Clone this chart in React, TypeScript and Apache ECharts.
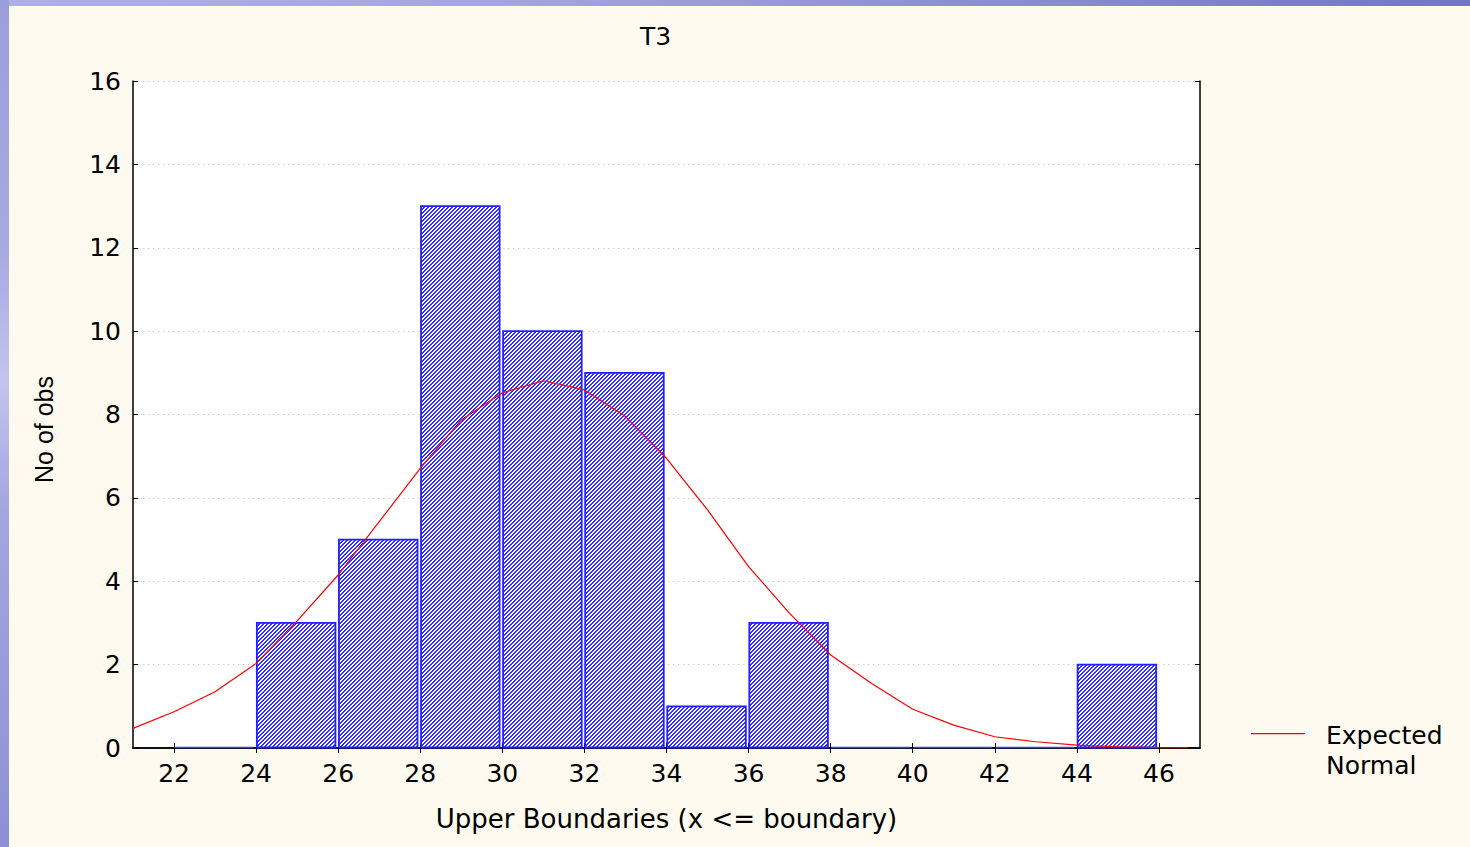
import React, { useEffect, useRef } from "react";
import * as echarts from "echarts";

const chartTitle = "T3";
const xAxisName = "Upper Boundaries (x <= boundary)";
const yAxisName = "No of obs";
const legendName = "Expected Normal";
const legendLines = ["Expected", "Normal"];

// histogram bins (lower edge) and counts
const binStarts = [22, 24, 26, 28, 30, 32, 34, 36, 38, 40, 42, 44];
const binWidth = 2;
const counts = [0, 3, 5, 13, 10, 9, 1, 3, 0, 0, 0, 2];

// expected normal curve
const curveX = [21, 22, 23, 24, 25, 26, 27, 28, 29, 30, 31, 32, 33, 34, 35, 36, 37, 38, 39, 40, 41, 42, 43, 44, 45, 46, 46.7];
const curveY = [0.47, 0.87, 1.35, 2.03, 3.05, 4.15, 5.43, 6.71, 7.87, 8.52, 8.81, 8.59, 7.95, 6.95, 5.71, 4.35, 3.23, 2.23, 1.55, 0.93, 0.55, 0.27, 0.15, 0.07, 0.03, 0.01, 0.005];

const xTicks = [22, 24, 26, 28, 30, 32, 34, 36, 38, 40, 42, 44, 46];
const xMin = 21;
const xMax = 47;
const yMin = 0;
const yMax = 16;
const yStep = 2;

const FONT = "DejaVu Sans";

function makeHatch() {
  const n = 4;
  const c = document.createElement("canvas");
  c.width = n;
  c.height = n;
  const ctx = c.getContext("2d")!;
  ctx.fillStyle = "#ffffff";
  ctx.fillRect(0, 0, n, n);
  ctx.fillStyle = "#3030ff";
  for (let y = 0; y < n; y++) {
    for (let x = 0; x < n; x++) {
      const k = (x + y) % n;
      if (k === 0 || k === 3) ctx.fillRect(x, y, 1, 1);
    }
  }
  return { image: c.toDataURL(), repeat: "repeat", imageWidth: n, imageHeight: n };
}

export default function App() {
  const ref = useRef<HTMLDivElement>(null);

  useEffect(() => {
    if (!ref.current) return;
    const chart = echarts.init(ref.current, null, { renderer: "svg" });
    const hatch = makeHatch();

    const barData = binStarts.map((s, i) => [s, s + binWidth, counts[i]]);
    const curveData = curveX.map((x, i) => [x, curveY[i]]);

    const frameLine = { show: true, lineStyle: { color: "#000", width: 1.5 } };
    const tickIn = { show: true, inside: true, length: 5, lineStyle: { color: "#000", width: 1 } };

    chart.setOption({
      animation: false,
      backgroundColor: "#fffaef",
      title: {
        text: chartTitle,
        left: 631,
        top: 18,
        padding: 0,
        textStyle: { fontFamily: FONT, fontSize: 25, fontWeight: "normal", color: "#000" },
      },
      legend: {
        left: 1242,
        top: 714,
        padding: 0,
        selectedMode: false,
        itemWidth: 70,
        itemHeight: 34,
        data: [
          {
            name: legendName,
            icon: "path://M0,0H54V1.2H0Z M70,34H70.1V34.1H70Z",
            itemStyle: { color: "#ff0000", borderWidth: 0 },
          },
        ],
        formatter: () => legendLines.join("\n"),
        textStyle: { fontFamily: FONT, fontSize: 25, color: "#000", lineHeight: 30 },
      },
      grid: {
        left: 124,
        top: 75,
        right: 270,
        bottom: 99,
        show: true,
        backgroundColor: "#ffffff",
        borderWidth: 0,
      },
      xAxis: [
        {
          type: "value",
          position: "bottom",
          min: xMin,
          max: xMax,
          axisLine: frameLine,
          axisTick: { ...tickIn, customValues: xTicks },
          axisLabel: { customValues: xTicks, fontFamily: FONT, fontSize: 25, color: "#000", margin: 13 },
          splitLine: { show: false },
          name: xAxisName,
          nameLocation: "middle",
          nameGap: 58,
          nameTextStyle: { fontFamily: FONT, fontSize: 26, color: "#000" },
        },
        {
          type: "value",
          position: "top",
          min: xMin,
          max: xMax,
          axisLine: frameLine,
          axisTick: { ...tickIn, customValues: xTicks },
          axisLabel: { show: false },
          splitLine: { show: false },
        },
      ],
      yAxis: [
        {
          type: "value",
          position: "left",
          min: yMin,
          max: yMax,
          interval: yStep,
          axisLine: frameLine,
          axisTick: tickIn,
          axisLabel: { fontFamily: FONT, fontSize: 25, color: "#000", margin: 12 },
          splitLine: { show: true, lineStyle: { color: "#cfcfcf", width: 1, type: [1.5, 3.5] } },
          name: yAxisName,
          nameLocation: "middle",
          nameRotate: 90,
          nameGap: 77,
          nameTextStyle: { fontFamily: "Liberation Sans", fontSize: 25, color: "#000", padding: [0, 30, 0, 0] },
        },
        {
          type: "value",
          position: "right",
          min: yMin,
          max: yMax,
          interval: yStep,
          axisLine: frameLine,
          axisTick: tickIn,
          axisLabel: { show: false },
          splitLine: { show: false },
        },
      ],
      series: [
        {
          type: "custom",
          name: "Histogram",
          xAxisIndex: 0,
          yAxisIndex: 0,
          silent: true,
          z: 2,
          encode: { x: [0, 1], y: 2 },
          data: barData,
          renderItem: (_params: any, api: any) => {
            const lo = api.value(0);
            const hi = api.value(1);
            const v = api.value(2);
            const p0 = api.coord([lo, 0]);
            const p1 = api.coord([hi, v]);
            const x0 = p0[0] + 0.75;
            const x1 = p1[0] - 2.75;
            if (v === 0) {
              return {
                type: "line",
                shape: { x1: x0, y1: p0[1] - 0.5, x2: x1, y2: p0[1] - 0.5 },
                style: { stroke: "#3a3aff", lineWidth: 1.5 },
              };
            }
            return {
              type: "rect",
              shape: { x: x0, y: p1[1], width: x1 - x0, height: p0[1] - p1[1] - 0.5 },
              style: { fill: hatch, stroke: "#1f1fff", lineWidth: 1.8 },
            };
          },
        },
        {
          type: "line",
          name: legendName,
          xAxisIndex: 0,
          yAxisIndex: 0,
          data: curveData,
          symbol: "none",
          smooth: false,
          z: 3,
          lineStyle: { color: "#ff0000", width: 1.2 },
          itemStyle: { color: "#ff0000" },
        },
      ],
    });

    return () => chart.dispose();
  }, []);

  return (
    <div
      style={{
        position: "fixed",
        left: 0,
        top: 0,
        width: 1470,
        height: 847,
        overflow: "hidden",
        background: "linear-gradient(90deg, #aeb0e4 0%, #a3a5df 35%, #8688d2 75%, #7274c8 100%)",
      }}
    >
      <div
        style={{
          position: "absolute",
          left: 0,
          top: 0,
          width: 9,
          height: 847,
          background: "linear-gradient(180deg, #9c9edb 0%, #a8aae2 30%, #c2c4ee 45%, #a4a6e0 60%, #8e90d6 100%)",
        }}
      />
      <div ref={ref} style={{ position: "absolute", left: 9, top: 6, width: 1461, height: 841 }} />
    </div>
  );
}
